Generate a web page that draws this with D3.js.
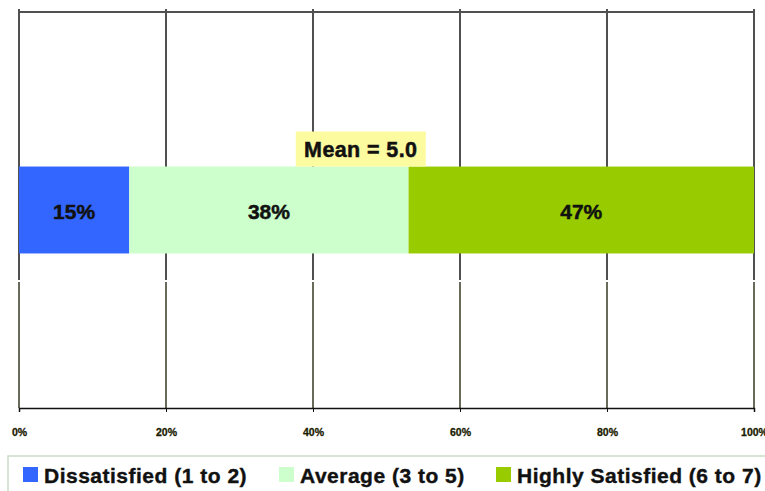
<!DOCTYPE html>
<html>
<head>
<meta charset="utf-8">
<script src="https://cdn.jsdelivr.net/npm/d3@7"></script>
<style>
  html, body { margin: 0; padding: 0; background: #fff; }
  svg { display: block; font-family: "Liberation Sans", Arial, sans-serif; }
</style>
</head>
<body>
<svg id="chart" width="765" height="491"></svg>
<script>
// Satisfaction distribution (share of respondents, %)
const categories = ["Dissatisfied (1 to 2)", "Average (3 to 5)", "Highly Satisfied (6 to 7)"];
const values = [15, 38, 47];
const barLabels = ["15%", "38%", "47%"];
const colors = ["#3366ff", "#ccffcc", "#99cc00"];
const tickValues = [0, 20, 40, 60, 80, 100];
const tickLabels = ["0%", "20%", "40%", "60%", "80%", "100%"];
const meanText = "Mean = 5.0";
const meanLabelAt = 46.5; // horizontal placement of the mean callout, in % units

const svg = d3.select("#chart");

const plot = { left: 19, right: 754, top: 12, bottom: 408, split: 281 };

const x = d3.scaleLinear().domain([0, 100]).range([plot.left, plot.right]);
const y = d3.scaleBand().domain(["row"]).range([plot.top, plot.bottom]).padding(0.64);

// Upper gridline segments (gray) and top frame line
const grid = svg.append("g");
grid.selectAll("line.up").data(tickValues).join("line")
  .attr("class", "up")
  .attr("x1", d => x(d)).attr("x2", d => x(d))
  .attr("y1", plot.top - 3).attr("y2", plot.split - 1)
  .attr("stroke", "#505050").attr("stroke-width", 2);
grid.append("line")
  .attr("x1", x(0) - 1).attr("x2", x(100) + 1)
  .attr("y1", plot.top).attr("y2", plot.top)
  .attr("stroke", "#505050").attr("stroke-width", 2);

// Lower gridline segments (dark, thin)
grid.selectAll("line.low").data(tickValues).join("line")
  .attr("class", "low")
  .attr("x1", d => x(d)).attr("x2", d => x(d))
  .attr("y1", plot.split + 1).attr("y2", plot.bottom)
  .attr("stroke", "#1a1a00").attr("stroke-width", 1.3);

// Stacked bar
let acc = 0;
const segs = values.map((v, i) => {
  const s = { start: acc, end: acc + v, label: barLabels[i], color: colors[i] };
  acc += v;
  return s;
});

const bars = svg.append("g");
bars.selectAll("rect").data(segs).join("rect")
  .attr("x", d => x(d.start))
  .attr("width", d => x(d.end) - x(d.start))
  .attr("y", y("row"))
  .attr("height", y.bandwidth())
  .attr("fill", d => d.color);

bars.selectAll("text").data(segs).join("text")
  .attr("x", d => (x(d.start) + x(d.end)) / 2)
  .attr("y", y("row") + y.bandwidth() / 2 + 1)
  .attr("text-anchor", "middle")
  .attr("dominant-baseline", "central")
  .attr("font-size", 21).attr("font-weight", "bold")
  .attr("fill", "#111").attr("stroke", "#111").attr("stroke-width", 0.5)
  .text(d => d.label);

// Mean callout sitting on top of the bar
const meanG = svg.append("g");
const meanW = 130, meanH = 35;
meanG.append("rect")
  .attr("x", x(meanLabelAt) - meanW / 2)
  .attr("y", y("row") - meanH)
  .attr("width", meanW).attr("height", meanH)
  .attr("fill", "#fdfb9f");
meanG.append("text")
  .attr("x", x(meanLabelAt))
  .attr("y", y("row") - meanH / 2 + 1)
  .attr("text-anchor", "middle")
  .attr("dominant-baseline", "central")
  .attr("font-size", 21.5).attr("font-weight", "bold")
  .attr("letter-spacing", 0.4)
  .attr("fill", "#111").attr("stroke", "#111").attr("stroke-width", 0.5)
  .text(meanText);

// Bottom axis
const axis = d3.axisBottom(x)
  .tickValues(tickValues)
  .tickFormat((d, i) => tickLabels[i])
  .tickSize(4)
  .tickPadding(17);
const ax = svg.append("g")
  .attr("transform", `translate(0,${plot.bottom})`)
  .call(axis);
ax.select(".domain").attr("stroke", "#111").attr("stroke-width", 1.5);
ax.selectAll(".tick line").attr("stroke", "#111");
ax.selectAll(".tick text")
  .attr("font-size", 10.5).attr("font-weight", "bold")
  .attr("font-family", "Liberation Sans, Arial, sans-serif")
  .attr("fill", "#1a1a00").attr("stroke", "#1a1a00").attr("stroke-width", 0.3);

// Legend
const legend = svg.append("g");
legend.append("rect")
  .attr("x", 8).attr("y", 456)
  .attr("width", 800).attr("height", 100)
  .attr("fill", "none")
  .attr("stroke", "#c9dcc6").attr("stroke-width", 1.5);

const legendX = [23, 279, 496];
const items = legend.selectAll("g.item").data(categories).join("g")
  .attr("class", "item")
  .attr("transform", (d, i) => `translate(${legendX[i]},467)`);
items.append("rect")
  .attr("width", 15).attr("height", 15)
  .attr("fill", (d, i) => colors[i]);
items.append("text")
  .attr("x", 21).attr("y", 16)
  .attr("font-size", 21).attr("font-weight", "bold")
  .attr("letter-spacing", 0.5)
  .attr("fill", "#111").attr("stroke", "#111").attr("stroke-width", 0.4)
  .text(d => d);
</script>
</body>
</html>
